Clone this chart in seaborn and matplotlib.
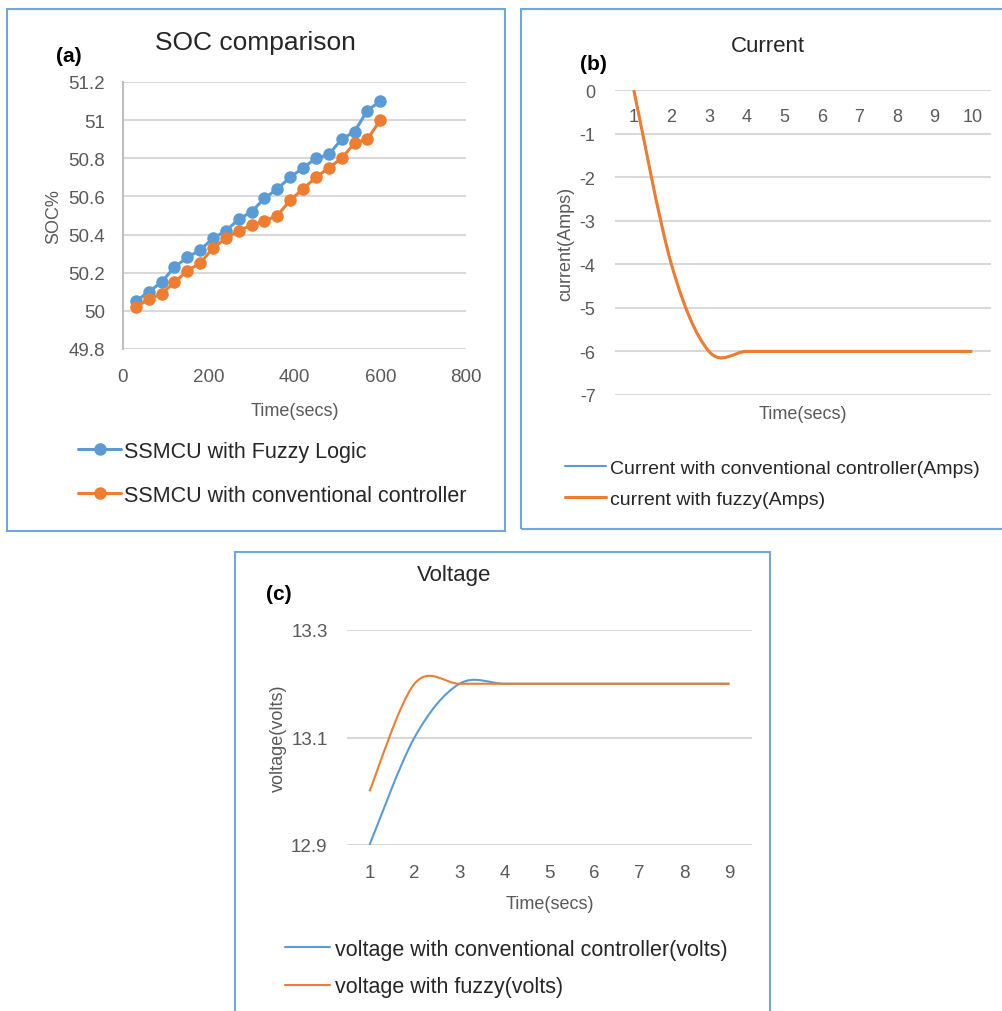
import matplotlib
matplotlib.use("Agg")
import matplotlib.pyplot as plt
import numpy as np
import pandas as pd
import seaborn as sns
from matplotlib.lines import Line2D
from matplotlib.patches import PathPatch, Rectangle
from matplotlib.path import Path
from matplotlib.ticker import FuncFormatter

# (a) SOC comparison
soc_time = [30, 60, 90, 120, 150, 180, 210, 240, 270, 300,
            330, 360, 390, 420, 450, 480, 510, 540, 570, 600]
soc_fuzzy = [50.05, 50.10, 50.15, 50.23, 50.28, 50.32, 50.38, 50.42, 50.48, 50.52,
             50.59, 50.64, 50.70, 50.75, 50.80, 50.82, 50.90, 50.94, 51.05, 51.10]
soc_conv = [50.02, 50.06, 50.09, 50.15, 50.21, 50.25, 50.33, 50.38, 50.42, 50.45,
            50.47, 50.50, 50.58, 50.64, 50.70, 50.75, 50.80, 50.88, 50.90, 51.00]

# (b) Current
cur_step = [1, 2, 3, 4, 5, 6, 7, 8, 9, 10]
cur_conv = [0, -4, -6, -6, -6, -6, -6, -6, -6, -6]
cur_fuzzy = [0, -4, -6, -6, -6, -6, -6, -6, -6, -6]

# (c) Voltage
volt_step = [1, 2, 3, 4, 5, 6, 7, 8, 9]
volt_conv = [12.9, 13.1, 13.2, 13.2, 13.2, 13.2, 13.2, 13.2, 13.2]
volt_fuzzy = [13.0, 13.2, 13.2, 13.2, 13.2, 13.2, 13.2, 13.2, 13.2]

BLUE = "#5B9BD5"
ORANGE = "#ED7D31"
GRID = "#D9D9D9"
TICK = "#595959"
FRAME = "#6FA8DC"
W, H = 1003, 1012

sns.set_theme(style="white")
plt.rcParams["font.family"] = ["Liberation Sans", "DejaVu Sans"]
plt.rcParams["axes.unicode_minus"] = False


def fx(px):
    return px / W


def fy(py):
    return 1 - py / H


def add_axes(x0, y0, x1, y1):
    return fig.add_axes([fx(x0), fy(y1), fx(x1) - fx(x0), fy(y0) - fy(y1)])


def smooth_path(x, y):
    # Excel-style "smoothed line": cubic Bezier through every data point
    pts = np.column_stack([x, y]).astype(float)
    n = len(pts)
    verts, codes = [pts[0]], [Path.MOVETO]
    for i in range(n - 1):
        p0, p1 = pts[max(i - 1, 0)], pts[i]
        p2, p3 = pts[i + 1], pts[min(i + 2, n - 1)]
        verts += [p1 + (p2 - p0) / 6, p2 - (p3 - p1) / 6, p2]
        codes += [Path.CURVE4] * 3
    return Path(verts, codes)


def style_axes(ax):
    for s in ax.spines.values():
        s.set_visible(False)
    ax.yaxis.grid(True, color=GRID, lw=1.5)
    ax.xaxis.grid(False)
    ax.tick_params(length=0, colors=TICK)


fig = plt.figure(figsize=(W / 100, H / 100), dpi=100)

# panel frames
for x0, y0, x1, y1 in [(7, 10, 505, 532), (521, 10, 1012, 530), (235, 553, 770, 1020)]:
    fig.patches.append(Rectangle((fx(x0), fy(y1)), fx(x1) - fx(x0), fy(y0) - fy(y1),
                                 transform=fig.transFigure, fill=False,
                                 edgecolor=FRAME, lw=1.5))

# ---- (a) ----
ax = add_axes(123, 83, 466, 350)
style_axes(ax)
df_a = pd.DataFrame({"time": soc_time, "fuzzy": soc_fuzzy, "conv": soc_conv})
sns.lineplot(data=df_a, x="time", y="fuzzy", ax=ax, color=BLUE, lw=2.2, marker="o",
             markersize=9, markeredgewidth=0, label="SSMCU with Fuzzy Logic")
sns.lineplot(data=df_a, x="time", y="conv", ax=ax, color=ORANGE, lw=2.2, marker="o",
             markersize=9, markeredgewidth=0, label="SSMCU with conventional controller")
ax.set_xlim(0, 800)
ax.set_ylim(49.8, 51.2)
ax.set_xticks(range(0, 801, 200))
ax.set_yticks(np.arange(49.8, 51.21, 0.2))
ax.yaxis.set_major_formatter(FuncFormatter(lambda v, p: f"{round(v, 1):g}"))
ax.spines["left"].set_visible(True)
ax.spines["left"].set_color("#BFBFBF")
ax.spines["left"].set_linewidth(1.5)
ax.tick_params(labelsize=13.5)
ax.tick_params(axis="x", pad=14)
ax.tick_params(axis="y", pad=13)
ax.set_xlabel("Time(secs)", fontsize=13, color=TICK, labelpad=12)
ax.set_ylabel("SOC%", fontsize=13, color=TICK, labelpad=4)
ax.legend(loc="upper left", bbox_to_anchor=(fx(78), fy(442)), bbox_transform=fig.transFigure,
          frameon=False, fontsize=15.5, borderpad=0, borderaxespad=0, handlelength=2.0,
          handletextpad=0.15, labelspacing=1.05, labelcolor="#262626")
fig.text(fx(255), fy(43), "SOC comparison", fontsize=19, ha="center", va="center",
         color="#262626")
fig.text(fx(69), fy(56), "(a)", fontsize=15, fontweight="bold", ha="center", va="center",
         color="#000000")

# ---- (b) ----
ax = add_axes(615, 91, 991, 396)
style_axes(ax)
ax.add_patch(PathPatch(smooth_path(cur_step, cur_conv), facecolor="none", edgecolor=BLUE, lw=1.5))
ax.add_patch(PathPatch(smooth_path(cur_step, cur_fuzzy), facecolor="none", edgecolor=ORANGE, lw=2.2))
ax.set_xlim(0.5, 10.5)
ax.set_ylim(-7, 0)
ax.set_xticks(cur_step)
ax.set_yticks(range(-7, 1))
ax.tick_params(labelsize=13)
ax.tick_params(axis="x", bottom=False, labelbottom=False, top=False, labeltop=True, pad=-25)
ax.tick_params(axis="y", pad=14)
ax.set_xlabel("Time(secs)", fontsize=13, color=TICK, labelpad=7)
ax.xaxis.set_label_position("bottom")
ax.set_ylabel("current(Amps)", fontsize=13, color=TICK, labelpad=4)
handles = [Line2D([], [], color=BLUE, lw=1.5), Line2D([], [], color=ORANGE, lw=2.2)]
ax.legend(handles, ["Current with conventional controller(Amps)", "current with fuzzy(Amps)"],
          loc="upper left", bbox_to_anchor=(fx(565), fy(460)), bbox_transform=fig.transFigure,
          frameon=False, fontsize=14, borderpad=0, borderaxespad=0, handlelength=2.1,
          handletextpad=0.2, labelspacing=0.7, labelcolor="#262626")
fig.text(fx(768), fy(47), "Current", fontsize=16, ha="center", va="center",
         color="#262626")
fig.text(fx(593), fy(64), "(b)", fontsize=15, fontweight="bold", ha="center", va="center",
         color="#000000")

# ---- (c) ----
ax = add_axes(347, 631, 752, 846)
style_axes(ax)
ax.add_patch(PathPatch(smooth_path(volt_step, volt_conv), facecolor="none", edgecolor=BLUE, lw=1.5))
ax.add_patch(PathPatch(smooth_path(volt_step, volt_fuzzy), facecolor="none", edgecolor=ORANGE, lw=1.5))
ax.set_xlim(0.5, 9.5)
ax.set_ylim(12.9, 13.3)
ax.set_xticks(volt_step)
ax.set_yticks([12.9, 13.1, 13.3])
ax.yaxis.set_major_formatter(FuncFormatter(lambda v, p: f"{v:.1f}"))
ax.tick_params(labelsize=13.5)
ax.tick_params(axis="x", pad=14)
ax.tick_params(axis="y", pad=14)
ax.set_xlabel("Time(secs)", fontsize=13, color=TICK, labelpad=10)
ax.set_ylabel("voltage(volts)", fontsize=13, color=TICK, labelpad=3)
handles = [Line2D([], [], color=BLUE, lw=1.5), Line2D([], [], color=ORANGE, lw=1.5)]
ax.legend(handles, ["voltage with conventional controller(volts)", "voltage with fuzzy(volts)"],
          loc="upper left", bbox_to_anchor=(fx(285), fy(940)), bbox_transform=fig.transFigure,
          frameon=False, fontsize=15.5, borderpad=0, borderaxespad=0, handlelength=2.1,
          handletextpad=0.2, labelspacing=0.75, labelcolor="#262626")
fig.text(fx(454), fy(575), "Voltage", fontsize=16, ha="center", va="center",
         color="#262626")
fig.text(fx(279), fy(595), "(c)", fontsize=15, fontweight="bold", ha="center", va="center",
         color="#000000")

fig.savefig("out.png", dpi=100)
